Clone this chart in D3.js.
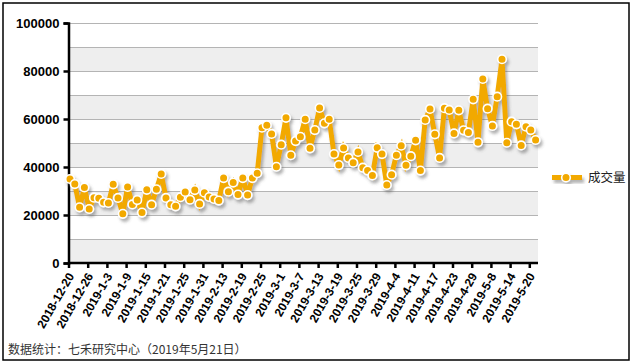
<!DOCTYPE html>
<html>
<head>
<meta charset="utf-8">
<script src="https://cdn.jsdelivr.net/npm/d3@7"></script>
<style>
  body { margin: 0; background: #fff; }
  svg { display: block; }
</style>
</head>
<body>
<div id="chart"></div>
<script>
// 成交量 series, one value per point (98 points, 2018-12-20 .. 2019-5-21)
var volume = [
  35000, 32900, 23200, 31500, 22500, 27200, 27000, 25300, 25000, 32800,
  27100, 20500, 31700, 24400, 26200, 21000, 30500, 24300, 30700, 37100,
  27100, 24300, 23600, 27400, 29600, 26400, 30400, 24600, 29300, 27500,
  26700, 26000, 35400, 29700, 33500, 28500, 35400, 28300, 35400, 37400,
  56400, 57400, 53800, 40100, 49300, 60500, 44900, 50800, 52600, 59900,
  47800, 55400, 64600, 58200, 59900, 45400, 40800, 47900, 43800, 41800,
  46300, 39700, 38500, 36500, 48000, 45400, 32500, 36800, 44900, 48900,
  40700, 44500, 51100, 38500, 59600, 64200, 53600, 43800, 64500, 63800,
  54000, 63600, 55300, 54400, 68200, 50300, 76700, 64300, 57100, 69300,
  84900, 50100, 58900, 57800, 49000, 56800, 55400, 51250
];

// a label on every 4th point
var tickLabels = [
  "2018-12-20", "2018-12-26", "2019-1-3", "2019-1-9", "2019-1-15",
  "2019-1-21", "2019-1-25", "2019-1-31", "2019-2-13", "2019-2-19",
  "2019-2-25", "2019-3-1", "2019-3-7", "2019-3-13", "2019-3-19",
  "2019-3-25", "2019-3-29", "2019-4-4", "2019-4-11", "2019-4-17",
  "2019-4-23", "2019-4-29", "2019-5-8", "2019-5-14", "2019-5-20"
];
var tickStep = 4;
var yTicks = [0, 20000, 40000, 60000, 80000, 100000];
var seriesName = "成交量";
var footnote = "数据统计：七禾研究中心（2019年5月21日）";

var width = 633, height = 364;
var plotL = 68.5, plotR = 538, plotT = 23, plotB = 263;
var orange = "#f2a900";

var svg = d3.select("#chart").append("svg")
    .attr("width", width)
    .attr("height", height);

var defs = svg.append("defs");
var shadow = defs.append("filter")
    .attr("id", "shadow")
    .attr("x", "-10%").attr("y", "-10%")
    .attr("width", "130%").attr("height", "130%");
shadow.append("feDropShadow")
    .attr("dx", 2).attr("dy", 3)
    .attr("stdDeviation", 1.5)
    .attr("flood-color", "#555")
    .attr("flood-opacity", 0.45);

var x = d3.scaleLinear()
    .domain([0, volume.length - 1])
    .range([plotL + 1.5, plotR - 2.4]);

var y = d3.scaleLinear()
    .domain([0, 100000])
    .range([plotB, plotT]);

// alternating bands
var bands = d3.range(0, 100000, 10000);
svg.append("g")
  .selectAll("rect")
  .data(bands)
  .join("rect")
    .attr("x", plotL)
    .attr("y", d => y(d + 10000))
    .attr("width", plotR - plotL)
    .attr("height", d => y(d) - y(d + 10000))
    .attr("fill", (d, i) => i % 2 == 0 ? "#eeeeee" : "#ffffff");

// grid lines
svg.append("g")
  .selectAll("line")
  .data(d3.range(10000, 100001, 10000))
  .join("line")
    .attr("x1", plotL)
    .attr("x2", plotR)
    .attr("y1", d => Math.round(y(d)) + 0.5)
    .attr("y2", d => Math.round(y(d)) + 0.5)
    .attr("stroke", "#b4b4b4")
    .attr("stroke-width", 1);

// y axis
var yAxis = svg.append("g")
    .attr("transform", "translate(" + plotL + ",0)")
    .call(d3.axisLeft(y).tickValues(yTicks).tickSize(5).tickPadding(4).tickFormat(d3.format("d")));
yAxis.select(".domain").attr("stroke", "#000").attr("stroke-width", 2.5);
yAxis.selectAll(".tick line").attr("stroke", "#000").attr("stroke-width", 2.5);
yAxis.selectAll(".tick text")
    .attr("fill", "#000")
    .style("font-family", "'Liberation Sans', Arial, sans-serif")
    .style("font-size", "13px")
    .style("font-weight", "bold");

// x axis
var tickIdx = tickLabels.map((d, i) => i * tickStep);
var xAxis = svg.append("g")
    .attr("transform", "translate(0," + plotB + ")")
    .call(d3.axisBottom(x).tickValues(tickIdx).tickSize(5).tickSizeOuter(0)
      .tickFormat((d, i) => tickLabels[i]));
xAxis.select(".domain").attr("stroke", "#000").attr("stroke-width", 2.5)
    .attr("d", "M" + plotL + ",0H" + plotR);
xAxis.selectAll(".tick line").attr("stroke", "#000").attr("stroke-width", 2.5)
    .attr("transform", "translate(-1.5,0)");
xAxis.selectAll(".tick text")
    .attr("fill", "#000")
    .attr("y", 0)
    .attr("dy", 0)
    .attr("text-anchor", "end")
    .attr("transform", "translate(4,13) rotate(-60)")
    .style("font-family", "'Liberation Sans', Arial, sans-serif")
    .style("font-size", "12px")
    .style("font-weight", "bold");

// series
var line = d3.line()
    .x((d, i) => x(i))
    .y(d => y(d));

var series = svg.append("g").attr("filter", "url(#shadow)");
series.append("path")
    .datum(volume)
    .attr("d", line)
    .attr("fill", "none")
    .attr("stroke", orange)
    .attr("stroke-width", 5)
    .attr("stroke-linejoin", "miter")
    .attr("stroke-miterlimit", 3);

series.selectAll("circle")
  .data(volume)
  .join("circle")
    .attr("cx", (d, i) => x(i))
    .attr("cy", d => y(d))
    .attr("r", 4.3)
    .attr("fill", orange)
    .attr("stroke", "#fff")
    .attr("stroke-width", 1.6);

// legend
var legend = svg.append("g").attr("transform", "translate(552,177.5)");
var legendMark = legend.append("g").attr("filter", "url(#shadow)");
legendMark.append("line")
    .attr("x1", 0).attr("x2", 30)
    .attr("stroke", orange).attr("stroke-width", 5);
legendMark.append("circle")
    .attr("cx", 14).attr("r", 4.3)
    .attr("fill", orange).attr("stroke", "#fff").attr("stroke-width", 1.6);
legend.append("text")
    .attr("x", 36)
    .attr("dy", "0.36em")
    .attr("fill", "#222")
    .style("font-family", "'Noto Sans CJK SC', sans-serif")
    .style("font-size", "12.5px")
    .text(seriesName);

// footnote
svg.append("text")
    .attr("x", 8)
    .attr("y", 354)
    .attr("fill", "#333")
    .style("font-family", "'Noto Sans CJK SC', sans-serif")
    .style("font-size", "12px")
    .text(footnote);

// outer frame
svg.append("rect")
    .attr("x", 3).attr("y", 3)
    .attr("width", 626).attr("height", 357)
    .attr("fill", "none")
    .attr("stroke", "#000")
    .attr("stroke-width", 1.5);
</script>
</body>
</html>
